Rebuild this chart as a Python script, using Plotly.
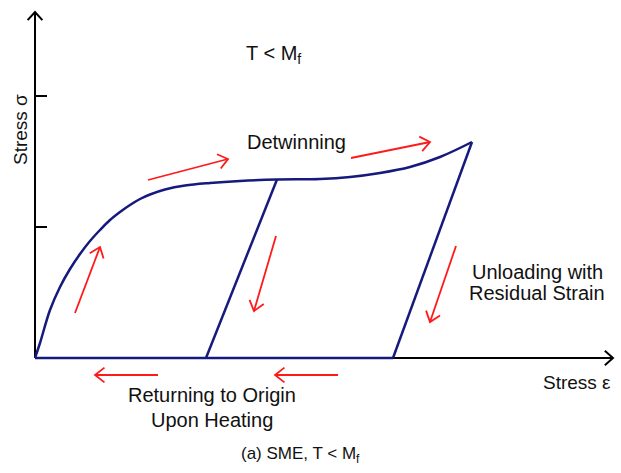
import math
import plotly.graph_objects as go

# Schematic stress-strain path for the shape memory effect (arbitrary units)
loading_strain = [0, 0.05, 0.15, 0.25, 0.35, 0.45, 0.55, 0.65, 0.75, 0.85, 0.95,
                  1.05, 1.15, 1.30, 1.50, 1.75, 2.05, 2.42, 2.85, 3.15, 3.45,
                  3.75, 4.05, 4.37]
loading_stress = [0, 0.15, 0.48, 0.71, 0.89, 1.04, 1.17, 1.28, 1.38, 1.46, 1.53,
                  1.59, 1.635, 1.685, 1.725, 1.75, 1.77, 1.785, 1.79, 1.81, 1.85,
                  1.91, 2.01, 2.16]

partial_unload_strain = [2.42, 1.71]
partial_unload_stress = [1.785, 0.0]

full_unload_strain = [4.37, 3.58]
full_unload_stress = [2.16, 0.0]

heating_strain = [3.58, 0.0]
heating_stress = [0.0, 0.0]

# Axis extents and tick positions
x_axis_end = 5.78
y_axis_end = 3.46
y_ticks = [1.31, 2.62]

# Direction arrows: (tail strain, tail stress, head strain, head stress)
flow_arrows = [
    (0.40, 0.45, 0.65, 1.11),
    (1.13, 1.78, 1.93, 1.99),
    (3.16, 2.00, 3.95, 2.16),
    (2.41, 1.22, 2.19, 0.47),
    (4.21, 1.12, 3.95, 0.36),
    (1.23, -0.17, 0.60, -0.17),
    (3.03, -0.17, 2.40, -0.17),
]

CURVE = "#161a7c"
RED = "#ff1a1a"
FONT = "Liberation Sans, Arial, sans-serif"


def arrow_path(x0, y0, x1, y1, head=0.1, angle=35):
    """Shaft plus open chevron head, returned as x/y lists with gaps."""
    dx, dy = x1 - x0, y1 - y0
    n = math.hypot(dx, dy)
    ux, uy = dx / n, dy / n
    xs, ys = [x0, x1, None], [y0, y1, None]
    a = math.radians(angle)
    wings = []
    for s in (1, -1):
        c, sn = math.cos(s * a), math.sin(s * a)
        rx, ry = ux * c - uy * sn, ux * sn + uy * c
        wings.append((x1 - head * rx, y1 - head * ry))
    xs += [wings[0][0], x1, wings[1][0], None]
    ys += [wings[0][1], y1, wings[1][1], None]
    return xs, ys


fig = go.Figure()

# Coordinate axes with arrowheads
ax_x, ax_y = arrow_path(0, 0, x_axis_end, 0, head=0.11, angle=42)
ay_x, ay_y = arrow_path(0, 0, 0, y_axis_end, head=0.11, angle=42)
for t in y_ticks:
    ax_x += [0, 0.12, None]
    ax_y += [t, t, None]
fig.add_trace(go.Scatter(x=ax_x + ay_x, y=ax_y + ay_y, mode="lines",
                         line=dict(color="black", width=2), hoverinfo="skip"))

# Loading, unloading and recovery paths
fig.add_trace(go.Scatter(x=loading_strain, y=loading_stress, mode="lines",
                         line=dict(color=CURVE, width=2.5, shape="spline", smoothing=1.0),
                         hoverinfo="skip"))
for xs, ys in [(partial_unload_strain, partial_unload_stress),
               (full_unload_strain, full_unload_stress),
               (heating_strain, heating_stress)]:
    fig.add_trace(go.Scatter(x=xs, y=ys, mode="lines",
                             line=dict(color=CURVE, width=2.5), hoverinfo="skip"))

# Red direction arrows
rx, ry = [], []
for x0, y0, x1, y1 in flow_arrows:
    px, py = arrow_path(x0, y0, x1, y1, head=0.12, angle=38)
    rx += px
    ry += py
fig.add_trace(go.Scatter(x=rx, y=ry, mode="lines",
                         line=dict(color=RED, width=1.8), hoverinfo="skip"))

labels = [
    (2.38, 3.04, "T &lt; M<sub>f</sub>", 20, 0),
    (2.61, 2.16, "Detwinning", 20, 0),
    (5.02, 0.86, "Unloading with", 20, 0),
    (5.02, 0.65, "Residual Strain", 20, 0),
    (1.77, -0.37, "Returning to Origin", 20, 0),
    (1.77, -0.62, "Upon Heating", 20, 0),
    (5.42, -0.24, "Stress ε", 19, 0),
    (-0.15, 2.28, "Stress σ", 19, -90),
]
for x, y, txt, size, ang in labels:
    fig.add_annotation(x=x, y=y, text=txt, showarrow=False, textangle=ang,
                       font=dict(family=FONT, size=size, color="#111111"),
                       xanchor="center", yanchor="middle")

fig.add_annotation(x=300 / 621, y=1 - 455 / 473, xref="paper", yref="paper",
                   text="(a) SME, T &lt; M<sub>f</sub>", showarrow=False,
                   font=dict(family=FONT, size=17, color="#111111"),
                   xanchor="center", yanchor="middle")

fig.update_layout(
    width=621, height=473,
    margin=dict(l=0, r=0, t=0, b=0),
    paper_bgcolor="white", plot_bgcolor="white",
    showlegend=False,
    xaxis=dict(range=[-0.35, 5.86], visible=False, fixedrange=True),
    yaxis=dict(range=[-1.15, 3.58], visible=False, fixedrange=True),
)

fig.write_html("out.html")
